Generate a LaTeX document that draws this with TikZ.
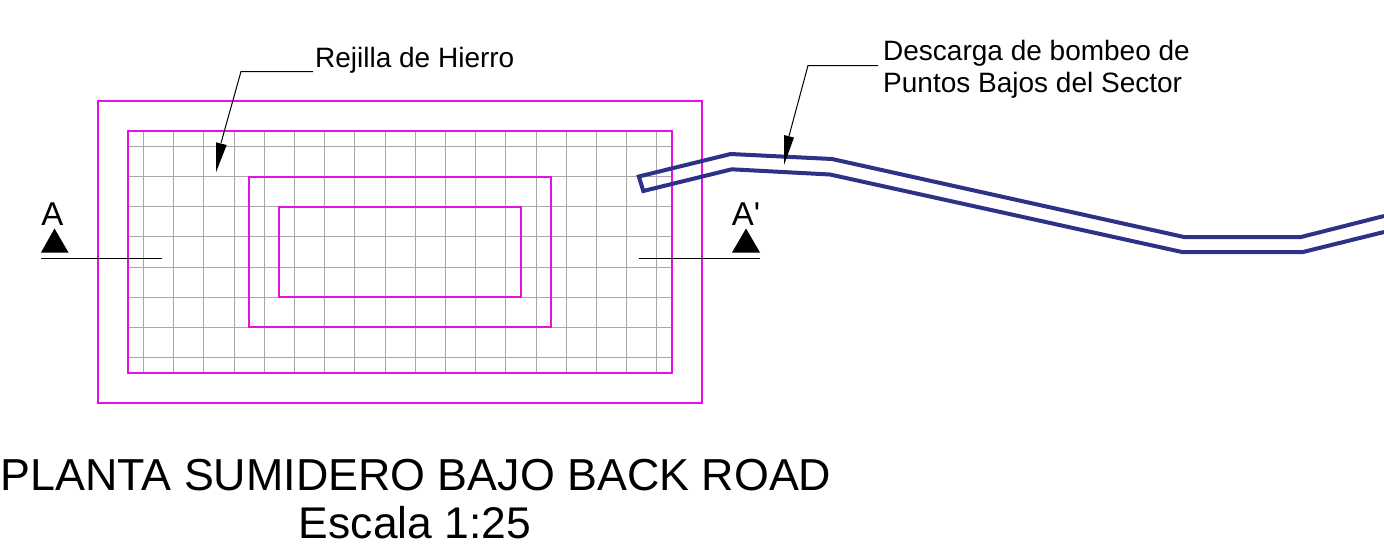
\documentclass[tikz,border=0pt]{standalone}
\usepackage{fontspec}
\setmainfont{Liberation Sans}
\definecolor{mag}{HTML}{E410E4}
\definecolor{gridg}{HTML}{A8A8A8}
\definecolor{pipe}{HTML}{2B3288}
\tikzset{
  wall/.style={draw=mag,line width=2pt},
  gridline/.style={draw=gridg,line width=1.1pt},
  pipeline/.style={draw=pipe,line width=4pt,line join=miter},
  leader/.style={draw=black,line width=1pt},
  tip/.style={fill=black,draw=none},
  sectionline/.style={draw=black,line width=1pt},
  lbl/.style={inner sep=0pt,anchor=base west,font=\fontsize{28}{30}\selectfont},
  secl/.style={inner sep=0pt,anchor=base,font=\fontsize{33}{36}\selectfont},
  ttl/.style={inner sep=0pt,anchor=base,font=\fontsize{44.8}{50}\selectfont},
  ttlb/.style={inner sep=0pt,anchor=base,font=\fontsize{44.4}{50}\selectfont}
}
\begin{document}
\begin{tikzpicture}[x=1pt,y=-1pt]
\useasboundingbox (0,0) rectangle (1384,550);
\fill[white] (0,0) rectangle (1384,550);
% grid
\foreach \i in {0,...,17} \draw[gridline] ({143.5+30.2*\i},131.5) -- ({143.5+30.2*\i},372.5);
\foreach \j in {0,...,7} \draw[gridline] (128.5,{146.3+30.2*\j}) -- (671.5,{146.3+30.2*\j});
% walls
\draw[wall] (98,101) rectangle (702,403);
\draw[wall] (128,131) rectangle (672,373);
\draw[wall] (249,177) rectangle (551,327);
\draw[wall] (279,207) rectangle (521,297);
% pipe
\draw[pipeline] (1384,216) -- (1301,237) -- (1184,237) -- (832,159) -- (730.7,154) -- (638.8,176.5) -- (643.3,191) -- (731.7,169.3) -- (830,174.5) -- (1182,252) -- (1303,252) -- (1384,232);
% section marks
\coordinate (a1) at (41,258.5); \coordinate (a2) at (162,258.5);
\coordinate (b1) at (638.5,258.5); \coordinate (b2) at (760,258.5);
\draw[sectionline] (a1) -- (a2);
\draw[sectionline] (b1) -- (b2);
\fill[tip] (41,252.5) -- (68.5,252.5) -- (54.5,228.5) -- cycle;
\fill[tip] (732,252.5) -- (760,252.5) -- (746,228.5) -- cycle;
\node[secl] (la) at (52.5,225) {A};
\node[secl] (lb) at (746,225) {A\textquotesingle};
% labels
\node[lbl] (rej) at (315,67) {Rejilla de Hierro};
\node[lbl] (des1) at (883,60) {Descarga de bombeo de};
\node[lbl] (des2) at (883,92) {Puntos Bajos del Sector};
% leaders
\coordinate (r1) at (313,71.5); \coordinate (r2) at (241,71.5); \coordinate (r3) at (221,143);
\draw[leader] (r1) -- (r2) -- (r3);
\fill[tip] (216,172.3) -- (216,142.3) -- (226.7,145) -- cycle;
\coordinate (d1) at (878,65.5); \coordinate (d2) at (808,65.5); \coordinate (d3) at (789,136);
\draw[leader] (d1) -- (d2) -- (d3);
\fill[tip] (784,165) -- (784,135) -- (794,137.5) -- cycle;
% title
\node[ttl] (t1) at (416,490) {PLANTA SUMIDERO BAJO BACK ROAD};
\node[ttlb] (t2) at (415,538) {Escala 1:25};
\end{tikzpicture}
\end{document}
